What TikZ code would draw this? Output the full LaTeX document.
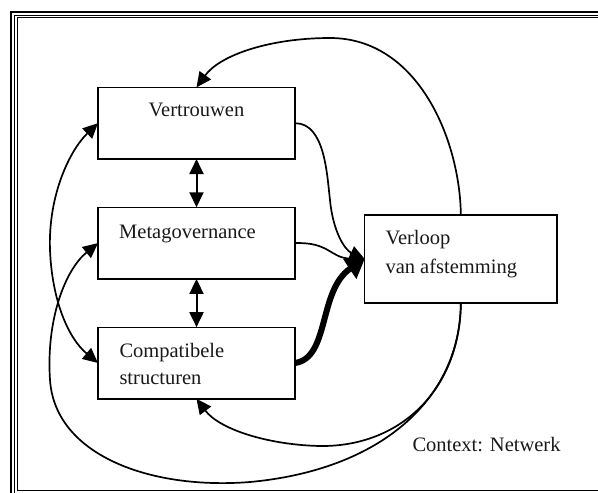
\documentclass[tikz,border=0pt]{standalone}
\usepackage{fontspec}
\setmainfont{Liberation Serif}
\usetikzlibrary{arrows.meta}
\begin{document}
\begin{tikzpicture}[x=1pt,y=-1pt,
  box/.style={draw, line width=1.3pt, inner sep=0pt, outer sep=0pt, minimum width=197pt, minimum height=71.7pt},
  lbl/.style={font=\fontsize{20.5}{24}\selectfont, inner sep=0pt, anchor=base west, text=black!90},
  link/.style={line width=1.7pt, -{Triangle[length=15pt,width=14pt]}},
  twoway/.style={line width=2pt, {Triangle[length=15pt,width=14pt]}-{Triangle[length=15pt,width=14pt]}},
  heavy/.style={line width=6pt, -{Triangle[length=18pt,width=23pt]}}]
\useasboundingbox (0,0) rectangle (598,493);
\clip (0,0) rectangle (598,493);

% triple frame
\draw[line width=2.2pt] (11,12.3) rectangle (640,540);
\draw[line width=1pt] (14.5,15.5) rectangle (640,496);
\draw[line width=0.9pt] (17.2,17.8) rectangle (640,490.8);

% boxes
\node[box] (vt) at (196.5,123.2) {};
\node[box] (mg) at (196.5,243.1) {};
\node[box] (cs) at (196.5,363) {};
\node[box, minimum width=192.3pt, minimum height=88pt] (va) at (460.85,259) {};

% labels
\node[lbl, anchor=base] (tvt) at (196.5,116.7) {Vertrouwen};
\node[lbl] (tmg) at (119,238.5) {Metagovernance};
\node[lbl] (tcs1) at (119.3,357) {Compatibele};
\node[lbl] (tcs2) at (119.3,384.7) {structuren};
\node[lbl] (tva1) at (385.3,244.3) {Verloop};
\node[lbl] (tva2) at (385.3,273) {van afstemming};
\node[lbl] (tctx) at (412.3,451.3) {Context: Netwerk};

% vertical two-way links
\draw[twoway] (vt.south) -- (mg.north);
\draw[twoway] (mg.south) -- (cs.north);

% links into Verloop
\draw[link] (vt.east) .. controls (325,123) and (327,175) .. (330,200)
  .. controls (333,232) and (345,250) .. (va.west);
\draw[link] (mg.east) .. controls (330,242) and (330,258) .. (va.west);
\draw[heavy] (cs.east) .. controls (330,358) and (318,290) .. (va.west);

% feedback from Verloop
\draw[link] (va.north) .. controls (460,140) and (418,38) .. (330,38)
  .. controls (270,38) and (220,55) .. (vt.north);
\draw[link] (va.south) .. controls (460,390) and (400,447) .. (320,446)
  .. controls (270,445) and (220,430) .. (cs.south);
\draw[link] (va.south) .. controls (460,400) and (380,470) .. (250,482)
  .. controls (150,490) and (55,455) .. (50,380)
  .. controls (46,320) and (65,270) .. (mg.west);

% left two-way arc
\draw[twoway, line width=1.7pt] (vt.west) .. controls (70,150) and (48,195) .. (50,250)
  .. controls (52,300) and (68,338) .. (cs.west);
\end{tikzpicture}
\end{document}
